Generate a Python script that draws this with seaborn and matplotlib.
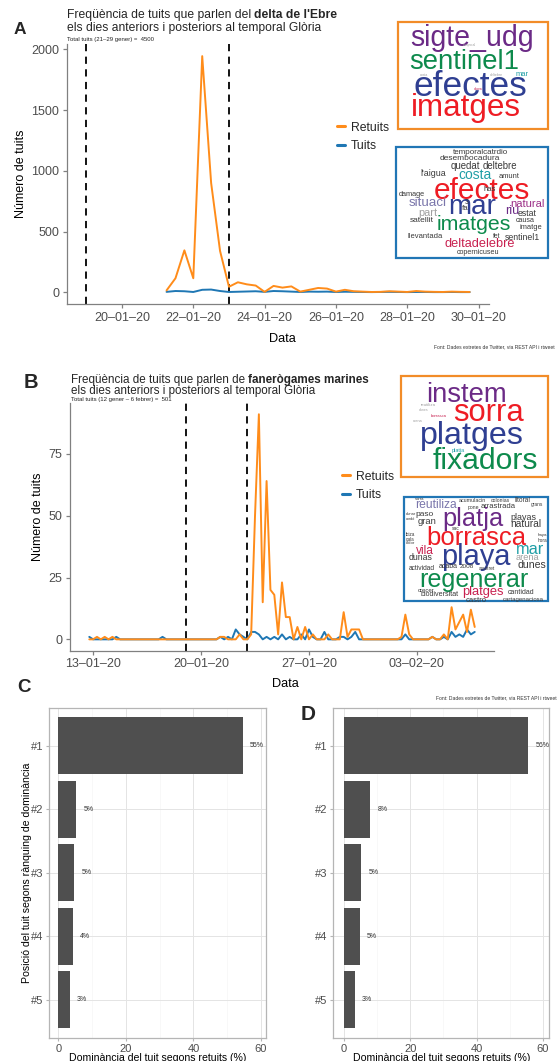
import matplotlib
matplotlib.use('Agg')
import matplotlib.pyplot as plt
import matplotlib.dates as mdates
from matplotlib.colors import same_color
from matplotlib.patches import Rectangle
import pandas as pd
import seaborn as sns

# ---------------------------------------------------------------- dades
# A: tuits sobre el delta de l'Ebre, recompte cada 6 hores
dates_a = pd.date_range('2020-01-21 06:00', periods=35, freq='6h')
retuits_a = [15, 115, 345, 115, 1945, 900, 340, 45, 82, 65,
             55, 3, 52, 38, 48, 5, 20, 35, 30, 5,
             20, 8, 5, 2, 3, 8, 5, 2, 10, 5,
             3, 2, 5, 3, 2]
tuits_a = [3, 10, 8, 2, 20, 22, 10, 2, 4, 6,
           8, 3, 10, 8, 5, 2, 5, 4, 5, 2,
           4, 3, 2, 1, 2, 3, 2, 1, 2, 2,
           1, 1, 2, 1, 1]

# B: tuits sobre fanerògames marines, recompte cada 6 hores
dates_b = pd.date_range('2020-01-12 18:00', periods=101, freq='6h')
retuits_b = [0, 0, 1, 0, 1, 0, 1, 0, 0, 0,
             0, 0, 0, 0, 0, 0, 0, 0, 0, 0,
             0, 0, 0, 0, 0, 0, 0, 0, 0, 0,
             0, 0, 0, 0, 1, 1, 0, 0, 0, 2,
             0, 0, 2, 50, 91, 15, 64, 20, 18, 2,
             23, 9, 9, 0, 5, 0, 5, 0, 2, 0,
             0, 0, 2, 0, 0, 0, 11, 1, 4, 4,
             4, 0, 0, 0, 0, 0, 0, 0, 0, 0,
             0, 1, 10, 2, 0, 0, 0, 0, 0, 1,
             0, 0, 2, 0, 13, 4, 7, 10, 3, 12,
             5]
tuits_b = [1, 0, 0, 0, 0, 0, 0, 1, 0, 0,
           0, 0, 0, 0, 0, 0, 0, 0, 0, 1,
           0, 0, 0, 0, 0, 0, 0, 0, 0, 0,
           0, 0, 0, 0, 1, 0, 1, 0, 4, 2,
           1, 0, 3, 3, 2, 0, 1, 0, 1, 0,
           2, 0, 1, 0, 0, 2, 0, 4, 1, 0,
           0, 3, 0, 0, 0, 1, 1, 0, 1, 3,
           0, 0, 0, 0, 0, 0, 0, 0, 0, 0,
           0, 0, 2, 0, 0, 0, 0, 0, 0, 1,
           0, 0, 1, 0, 3, 1, 2, 1, 4, 2,
           3]

temporal = ['2020-01-19', '2020-01-23']

rank_labels = ['#1', '#2', '#3', '#4', '#5']
dominance_c = [54.6, 5.2, 4.7, 4.3, 3.3]
dominance_d = [55.6, 8.0, 5.2, 4.8, 3.3]

# núvols de paraules: (paraula, x, y, amplada en px, color)
PURPLE, GREEN, NAVY, RED = '#6b2a86', '#0d8a4c', '#2f3f92', '#ee1c24'
TEAL, CRIMSON, LILAC, GREY, DARK = '#1f9ea6', '#c8204f', '#7a76ab', '#a0a0a0', '#3a3a3a'

cloud_a_rt = [
    ('sigte_udg', 472, 38, 141, PURPLE),
    ('sentinel1', 464, 62, 125, GREEN),
    ('mar', 522, 75, 14, TEAL),
    ('efectes', 470, 87, 130, NAVY),
    ('imatges', 466, 108, 125, RED),
    ('ahora', 478, 89, 9, CRIMSON),
    ('temporal', 470, 45, 14, GREY), ('deltebre', 496, 75, 14, GREY),
    ('costa', 424, 75, 9, GREY),
]
cloud_a_tw = [
    ('temporalcatrdio', 480, 152, 63, DARK),
    ('desembocadura', 470, 159, 68, DARK),
    ('quedat', 465, 166, 31, DARK), ('deltebre', 500, 166, 37, DARK),
    ("l'aigua", 433, 173, 27, DARK), ('costa', 475, 175, 35, TEAL),
    ('amunt', 509, 176, 22, DARK),
    ('efectes', 482, 191, 110, RED),
    ('has', 490, 189, 13, DARK), ('damage', 412, 194, 28, DARK),
    ('situaci', 428, 203, 40, LILAC), ('mar', 472, 207, 55, NAVY),
    ('fa', 465, 208, 7, DARK), ('3', 467, 202, 4, DARK),
    ('natural', 527, 204, 36, '#9b2d86'), ('riu', 512, 211, 15, PURPLE),
    ('part', 428, 213, 20, GREY), ('estat', 527, 213, 20, DARK),
    ('satellit', 422, 221, 25, DARK), ('imatges', 474, 225, 85, GREEN),
    ('causa', 525, 221, 20, DARK), ('imatge', 531, 228, 24, DARK),
    ('llevantada', 425, 237, 37, DARK), ('fet', 497, 237, 8, DARK),
    ('sentinel1', 522, 237, 37, DARK),
    ('deltadelebre', 480, 244, 80, CRIMSON),
    ('copernicuseu', 478, 252, 48, DARK),
]
cloud_b_rt = [
    ('instem', 466, 395, 92, PURPLE),
    ('sorra', 489, 413, 81, RED),
    ('platges', 472, 436, 118, NAVY),
    ('fixadors', 485, 461, 121, GREEN),
    ('platja', 458, 450, 14, TEAL),
    ('borrasca', 439, 416, 17, CRIMSON),
    ('reutiliza', 428, 405, 16, GREY), ('dunes', 424, 410, 10, GREY),
    ('arena', 418, 421, 10, GREY),
]
cloud_b_tw = [
    ('sorra', 420, 499, 10, DARK), ('reutiliza', 436, 505, 48, LILAC),
    ('acumulacin', 472, 501, 28, DARK), ('colonias', 500, 501, 20, DARK),
    ('litoral', 522, 500, 17, DARK), ('arrastrada', 498, 507, 37, DARK),
    ('pone', 473, 507, 12, DARK), ('grans', 537, 505, 13, DARK),
    ('dunar', 411, 514, 11, DARK), ('paso', 425, 515, 19, DARK),
    ('cordó', 410, 519, 10, DARK), ('gran', 427, 521, 20, DARK),
    ('platja', 473, 519, 69, PURPLE),
    ('playas', 523, 517, 27, DARK), ('natural', 526, 524, 33, DARK),
    ('sac', 456, 529, 8, DARK),
    ('ibiza', 410, 535, 10, DARK), ('gala', 410, 539, 9, DARK),
    ('color', 411, 543, 10, DARK),
    ('borrasca', 476, 538, 114, RED),
    ('haya', 542, 535, 10, DARK), ('hora', 542, 540, 10, DARK),
    ('vila', 425, 551, 19, CRIMSON), ('playa', 476, 557, 79, NAVY),
    ('mar', 530, 550, 30, TEAL), ('dunas', 421, 558, 25, DARK),
    ('arena', 527, 558, 25, GREY), ('actividad', 422, 568, 28, DARK),
    ('acaba', 448, 567, 20, DARK), ('2008', 467, 567, 15, DARK),
    ('avuitret', 487, 569, 17, DARK), ('dunes', 532, 565, 30, DARK),
    ('regenerar', 474, 580, 125, GREEN),
    ('crecer', 426, 591, 18, DARK), ('biodiversitat', 440, 595, 40, DARK),
    ('platges', 483, 592, 47, CRIMSON), ('cantidad', 521, 592, 28, DARK),
    ('castro', 476, 600, 22, DARK), ('cartagenaciosa', 523, 599, 47, DARK),
]

# ---------------------------------------------------------------- estil
W, H = 557, 1061
ORANGE, BLUE = '#ff8c1a', '#1f77b4'
PALETTE = {'Retuits': ORANGE, 'Tuits': BLUE}
BAR = '#4f4f4f'
AXIS = '#808080'
TICKTXT = '#4d4d4d'

sns.set_theme(style='ticks')
plt.rcParams['font.family'] = ['Liberation Sans', 'DejaVu Sans']

fig = plt.figure(figsize=(W / 100, H / 100), dpi=100)
renderer = fig.canvas.get_renderer()


def px_axes(x0, y0, x1, y1):
    return fig.add_axes([x0 / W, 1 - y1 / H, (x1 - x0) / W, (y1 - y0) / H])


def fig_text(x, y, s, **kw):
    return fig.text(x / W, 1 - y / H, s, **kw)


def title_block(x, y1, y2, y3, normal, bold, subtitle, size):
    t = fig_text(x, y1, normal, fontsize=size, va='baseline')
    x_bold = t.get_window_extent(renderer).x1 + 0.28 * size * 100 / 72
    fig.text(x_bold / W, 1 - y1 / H, bold, fontsize=size, fontweight='bold', va='baseline')
    fig_text(x, y2, 'els dies anteriors i posteriors al temporal Glòria', fontsize=size, va='baseline')
    fig_text(x, y3, subtitle, fontsize=4.3, va='baseline', color='#222222')


def line_panel(ax, dates, retuits, tuits, xlim, ylim, yticks, xticks, legend_xy,
               ylab_x, ylab_y, xlab_x, xlab_y):
    n = len(dates)
    df = pd.DataFrame({'data': list(dates) * 2,
                       'n': retuits + tuits,
                       'tipus': ['Retuits'] * n + ['Tuits'] * n})
    sns.lineplot(data=df, x='data', y='n', hue='tipus', hue_order=['Retuits', 'Tuits'],
                 palette=PALETTE, linewidth=1.4, ax=ax)
    for ln in ax.lines:
        if same_color(ln.get_color(), ORANGE):
            ln.set_zorder(3)
    for d in temporal:
        ax.axvline(pd.Timestamp(d), color='black', lw=1.3, ls=(0, (4, 3)), zorder=1)

    ax.set_xlim(pd.Timestamp(xlim[0]), pd.Timestamp(xlim[1]))
    ax.set_ylim(*ylim)
    ax.set_yticks(yticks)
    ax.set_xticks(xticks)
    ax.xaxis.set_major_formatter(mdates.DateFormatter('%d–%m–%y'))
    sns.despine(ax=ax)
    for side in ('left', 'bottom'):
        ax.spines[side].set_color(AXIS)
        ax.spines[side].set_linewidth(0.9)
    ax.tick_params(length=3, width=0.9, color=AXIS, labelsize=9, labelcolor=TICKTXT, pad=2.5)

    ax.set_xlabel('Data', fontsize=9.2, color='black')
    ax.set_ylabel('Número de tuits', fontsize=9, color='black')
    ax.xaxis.label.set_va('center')
    ax.yaxis.label.set_va('center')
    ax.xaxis.set_label_coords(xlab_x, xlab_y)
    ax.yaxis.set_label_coords(ylab_x, ylab_y)

    sns.move_legend(ax, 'center left', bbox_to_anchor=(legend_xy[0] / W, 1 - legend_xy[1] / H),
                    bbox_transform=fig.transFigure, frameon=False, title=None, fontsize=8.8,
                    handlelength=0.7, handletextpad=0.45, labelspacing=0.55,
                    borderpad=0, borderaxespad=0)
    for h in ax.get_legend().get_lines():
        h.set_linewidth(2.2)


def bar_panel(ax, values, xlim, ylabel):
    sns.barplot(x=values, y=rank_labels, orient='h', color=BAR, saturation=1,
                width=0.9, linewidth=0, ax=ax)
    for i, v in enumerate(values):
        ax.text(v + 2.2, i, f'{v:.0f}%', fontsize=5, ha='left', va='center', color='#333333')
    ax.set_xlim(*xlim)
    ax.set_ylim(4.6, -0.6)
    ax.set_xticks([0, 20, 40, 60])
    ax.set_xticks([10, 30, 50], minor=True)
    ax.grid(True, which='major', color='#e4e4e4', lw=0.7)
    ax.grid(True, which='minor', axis='x', color='#f3f3f3', lw=0.4)
    ax.set_axisbelow(True)
    for sp in ax.spines.values():
        sp.set_visible(True)
        sp.set_color('#b5b5b5')
        sp.set_linewidth(0.9)
    ax.tick_params(which='major', length=2.5, width=0.8, color='#b5b5b5', labelsize=8,
                   labelcolor=TICKTXT, pad=1.5)
    ax.tick_params(which='minor', length=0)
    ax.set_xlabel('Dominància del tuit segons retuits (%)', fontsize=7.6, color='black')
    ax.xaxis.label.set_va('center')
    ax.xaxis.set_label_coords(0.5, -0.061)
    if ylabel:
        ax.set_ylabel(ylabel, fontsize=7.6, color='black')
        ax.yaxis.label.set_va('center')
        ax.yaxis.set_label_coords((26.7 - 49.3) / 216.4, 0.5)
    else:
        ax.set_ylabel('')


def word_cloud(box, border, words):
    x0, y0, x1, y1 = box
    fig.add_artist(Rectangle((x0 / W, 1 - y1 / H), (x1 - x0) / W, (y1 - y0) / H,
                             transform=fig.transFigure, facecolor='white',
                             edgecolor=border, lw=1.6, zorder=5))
    for word, cx, cy, w, c in words:
        t = fig_text(cx, cy, word, color=c, fontsize=10, ha='center', va='center', zorder=6)
        shrink = 0.88 if w >= 45 else 0.95
        t.set_fontsize(10 * shrink * w / t.get_window_extent(renderer).width)


# ---------------------------------------------------------------- panell A
axA = px_axes(67, 44, 489, 304)
line_panel(axA, dates_a, retuits_a, tuits_a,
           xlim=('2020-01-18 11:00', '2020-01-30 07:00'), ylim=(-97, 2045),
           yticks=[0, 500, 1000, 1500, 2000],
           xticks=pd.date_range('2020-01-20', '2020-01-30', freq='2D'),
           legend_xy=(336.5, 137), ylab_x=(20.7 - 67) / 422, ylab_y=0.5,
           xlab_x=(282 - 67) / 422, xlab_y=(304 - 339) / 260)
title_block(66.7, 18.3, 31, 40.7, 'Freqüència de tuits que parlen del', "delta de l'Ebre",
            'Total tuits (21–29 gener) =  4500', 8.7)
fig_text(555, 348.5, 'Font: Dades extretes de Twitter, via REST API i rtweet',
         fontsize=3.6, ha='right', va='baseline', color='#333333')
fig_text(20, 30, 'A', fontsize=12.5, fontweight='bold', ha='center', va='center')

# ---------------------------------------------------------------- panell B
axB = px_axes(70, 403, 494, 650.6)
line_panel(axB, dates_b, retuits_b, tuits_b,
           xlim=('2020-01-11 12:00', '2020-02-08 00:00'), ylim=(-4.55, 95.55),
           yticks=[0, 25, 50, 75],
           xticks=pd.date_range('2020-01-13', '2020-02-03', freq='7D'),
           legend_xy=(341.7, 486), ylab_x=(37.7 - 70) / 424, ylab_y=0.54,
           xlab_x=(285 - 70) / 424, xlab_y=(650.6 - 684) / 247.6)
title_block(71, 382.5, 394.5, 401.5, 'Freqüència de tuits que parlen de', 'fanerògames marines',
            'Total tuits (12 gener – 6 febrer) =  501', 8.4)
fig_text(556.5, 699, 'Font: Dades extretes de Twitter, via REST API i rtweet',
         fontsize=3.6, ha='right', va='baseline', color='#333333')
fig_text(30.5, 382, 'B', fontsize=14.5, fontweight='bold', ha='center', va='center')

# ---------------------------------------------------------------- panells C i D
axC = px_axes(49.3, 707.7, 265.7, 1038)
bar_panel(axC, dominance_c, (-2.7, 61.4), 'Posició del tuit segons rànquing de dominància')
fig_text(24, 687.5, 'C', fontsize=13.5, fontweight='bold', ha='center', va='center')

axD = px_axes(333.3, 707.7, 549.3, 1038)
bar_panel(axD, dominance_d, (-3.2, 61.9), None)
fig_text(308.3, 714, 'D', fontsize=15, fontweight='bold', ha='center', va='center')

# ---------------------------------------------------------------- núvols
word_cloud((398.3, 22.3, 548.3, 129), '#f28c28', cloud_a_rt)
word_cloud((395.7, 146.7, 548.3, 257.7), '#2176b5', cloud_a_tw)
word_cloud((400.7, 375.7, 548.3, 476.7), '#f28c28', cloud_b_rt)
word_cloud((404, 496.7, 548.3, 601), '#2176b5', cloud_b_tw)

fig.savefig('out.png', dpi=100)
